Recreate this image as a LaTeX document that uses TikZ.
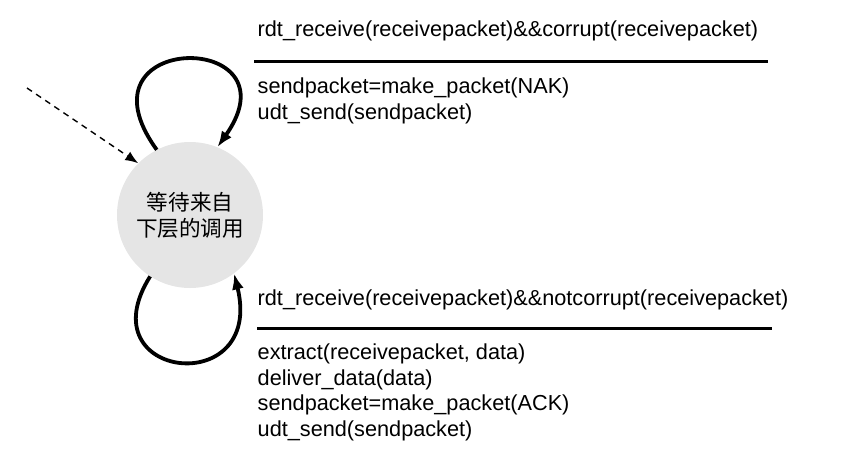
\documentclass[tikz,border=0pt]{standalone}
\usepackage{fontspec}
\setmainfont{Liberation Sans}
\newfontfamily\cjk{Noto Sans CJK SC}
\usetikzlibrary{positioning,arrows.meta}
\definecolor{statefill}{RGB}{229,229,229}
\begin{document}
\begin{tikzpicture}[x=1pt,y=-1pt,
        state/.style={circle,fill=statefill,inner sep=0pt,minimum size=146pt,align=center,font=\cjk\fontsize{21.6}{26}\selectfont},
        loopline/.style={line width=3.8pt,-{Latex[length=16pt,width=12pt]}},
        action/.style={inner sep=0pt,anchor=base west,align=left,font=\fontsize{21.7}{25.5}\selectfont},
        rule/.style={line width=3pt}]
        \useasboundingbox (0,0) rectangle (853,461);
        \node[state] (wait) at (190,215) {等待来自\\下层的调用};
        \coordinate (init) at (27,88);
        \draw[dashed,line width=1.4pt,dash pattern=on 6pt off 5pt,-{Latex[length=13pt,width=10pt]}] (init) -- (wait.135);
        % corrupt packet: resend NAK
        \draw[loopline] (wait.117) .. controls (70,30) and (300,30) .. (wait.68);
        \node[action] (nakcond) at (257.5,36) {rdt\_receive(receivepacket)\&\&corrupt(receivepacket)};
        \draw[rule] (254,61) -- (768,61);
        \node[action] (nakact) at (257.5,119) {sendpacket=make\_packet(NAK)\\udt\_send(sendpacket)};
        % good packet: deliver and ACK
        \draw[loopline] (wait.237) .. controls (85,380) and (265,400) .. (wait.307);
        \node[action] (ackcond) at (257.5,305) {rdt\_receive(receivepacket)\&\&notcorrupt(receivepacket)};
        \draw[rule] (257,328) -- (772,328);
        \node[action] (ackact) at (257.5,436) {extract(receivepacket, data)\\deliver\_data(data)\\sendpacket=make\_packet(ACK)\\udt\_send(sendpacket)};
\end{tikzpicture}
\end{document}
